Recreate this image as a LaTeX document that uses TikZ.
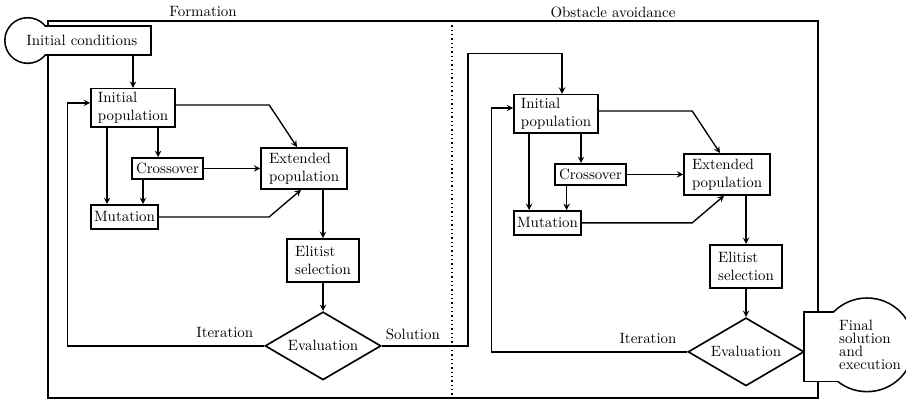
\documentclass[tikz,border=0pt]{standalone}
\usetikzlibrary{shapes.geometric, arrows, positioning}
\tikzstyle{process} = [
  rectangle,
  inner sep=2.5pt,
  align=left,
  draw=black,
  line width=1.1pt,
  fill=white
]
\tikzstyle{decision} = [
  diamond,
  aspect=1.7,
  minimum width=77.7pt,
  minimum height=45.6pt,
  inner sep=0pt,
  draw=black,
  line width=1.1pt,
  fill=white
]
\tikzstyle{terminal} = [
  rectangle,
  inner sep=3pt,
  align=left
]
\tikzstyle{arrow} = [line width=0.9pt, ->, >=stealth]
\tikzstyle{framebox} = [line width=0.9pt]
\pgfdeclarelayer{background}
\pgfsetlayers{background,main}

\begin{document}
\begin{tikzpicture}[x=0.67pt, y=-0.67pt, node distance=40pt]
    \useasboundingbox (0,0) rectangle (906,404);
    \node (title1) at (203,12) {Formation};
    \node (title2) at (613,12) {Obstacle avoidance};
    \node (start) [terminal, text width=79.8pt, minimum height=18.1pt] at (86,40.5) {Initial conditions};

    % formation
    \node (ipop1) [process, below of=start, xshift=31.5pt, yshift=-5.2pt, minimum width=56.3pt, minimum height=25.5pt] {Initial\\population};
    \node (cross1) [process, below of=ipop1, xshift=23.1pt, yshift=-0.5pt, minimum width=47.6pt, minimum height=14.1pt] {Crossover};
    \node (ext1) [process, right of=cross1, xshift=51.5pt, minimum width=57.6pt, minimum height=27.5pt] {Extended\\population};
    \node (mut1) [process, below of=cross1, xshift=-28.8pt, yshift=7.5pt, inner xsep=1.5pt, minimum width=44.9pt, minimum height=16.1pt] {Mutation};
    \node (elit1) [process, below of=ext1, xshift=12.7pt, yshift=-21.6pt, minimum width=48.2pt, minimum height=28.8pt] {Elitist\\selection};
    \node (eval1) [decision, below of=elit1, yshift=-17.3pt] {Evaluation};

    % obstacle avoidance
    \node (ipop2) [process, right of=ipop1, xshift=243.4pt, yshift=-4pt, minimum width=56.3pt, minimum height=25.5pt] {Initial\\population};
    \node (cross2) [process, below of=ipop2, xshift=23.1pt, yshift=-0.5pt, minimum width=47.6pt, minimum height=14.1pt] {Crossover};
    \node (ext2) [process, right of=cross2, xshift=51.5pt, minimum width=57.6pt, minimum height=27.5pt] {Extended\\population};
    \node (mut2) [process, below of=cross2, xshift=-28.8pt, yshift=7.5pt, inner xsep=1.5pt, minimum width=44.9pt, minimum height=16.1pt] {Mutation};
    \node (elit2) [process, below of=ext2, xshift=12.7pt, yshift=-21.6pt, minimum width=48.2pt, minimum height=28.8pt] {Elitist\\selection};
    \node (eval2) [decision, below of=elit2, yshift=-17.3pt] {Evaluation};
    \node (final) [terminal, right of=eval2, xshift=43.1pt, yshift=4.7pt, font=\fontsize{10}{8.7}\selectfont] {Final\\solution\\and\\execution};

    \draw [arrow] (start.south -| ipop1.north) -- (ipop1.north);
    \draw [arrow] ([yshift=2pt]ipop1.east) -- ([xshift=6pt, yshift=2pt]ext1.west |- ipop1.east) -- ([xshift=-4.7pt]ext1.north);
    \draw [arrow] ([xshift=-17.4pt]ipop1.south) -- ([xshift=-17.4pt]ipop1.south |- mut1.north);
    \draw [arrow] ([xshift=16.8pt]ipop1.south) -- ([xshift=16.8pt]ipop1.south |- cross1.north);
    \draw [arrow] ([xshift=-16.4pt]cross1.south) -- ([xshift=-16.4pt]cross1.south |- mut1.north);
    \draw [arrow] (cross1.east) -- (cross1.east -| ext1.west);
    \draw [arrow] (mut1.east) -- ([xshift=6pt]ext1.west |- mut1.east) -- ([xshift=-2pt]ext1.south);
    \draw [arrow] (ext1.south -| elit1.north) -- (elit1.north);
    \draw [arrow] (elit1) -- (eval1);
    \draw [arrow] (eval1.west) -| node[above=2pt, pos=0.1] {Iteration} ([xshift=-15.4pt, yshift=3.4pt]ipop1.west) -- ([yshift=3.4pt]ipop1.west);
    \draw [arrow] (eval1.east) -- node[above, pos=0.36] {Solution} ([xshift=-30.2pt]ipop2.west |- eval1.east) |- ([xshift=4pt, yshift=26.8pt]ipop2.north) -- ([xshift=4pt]ipop2.north);

    \draw [arrow] ([yshift=2pt]ipop2.east) -- ([xshift=6pt, yshift=2pt]ext2.west |- ipop2.east) -- ([xshift=-4.7pt]ext2.north);
    \draw [arrow] ([xshift=-18pt]ipop2.south) -- ([xshift=-18pt]ipop2.south |- mut2.north);
    \draw [arrow] ([xshift=16.8pt]ipop2.south) -- ([xshift=16.8pt]ipop2.south |- cross2.north);
    \draw [arrow] ([xshift=-16pt]cross2.south) -- ([xshift=-16pt]cross2.south |- mut2.north);
    \draw [arrow] (cross2.east) -- (cross2.east -| ext2.west);
    \draw [arrow] (mut2.east) -- ([xshift=6pt]ext2.west |- mut2.east) -- ([xshift=-2pt]ext2.south);
    \draw [arrow] (ext2.south -| elit2.north) -- (elit2.north);
    \draw [arrow] (elit2) -- (eval2);
    \draw [arrow] (eval2.west) -| node[above=2pt, pos=0.1] {Iteration} ([xshift=-14.7pt, yshift=4pt]ipop2.west) -- ([yshift=4pt]ipop2.west);

    \begin{pgfonlayer}{background}
      \draw [framebox] (48,21) rectangle (818,398);
      \draw [framebox, dotted] (452,21) -- (452,398);
      % start and end shapes
      \draw [line width=2.2pt] (start.north west) rectangle (start.south east);
      \draw [line width=2.2pt] ([xshift=4pt]start.west) circle (14.7pt);
      \fill [white] (start.north west) rectangle (start.south east);
      \fill [white] ([xshift=4pt]start.west) circle (14.7pt);
      \draw [line width=2.2pt] ([yshift=26.1pt]eval2.east) rectangle ([xshift=30.8pt, yshift=-19.4pt]eval2.east);
      \draw [line width=2.2pt] ([xshift=-2pt]final.center) circle (30.8pt);
      \fill [white] ([yshift=26.1pt]eval2.east) rectangle ([xshift=30.8pt, yshift=-19.4pt]eval2.east);
      \fill [white] ([xshift=-2pt]final.center) circle (30.8pt);
    \end{pgfonlayer}
\end{tikzpicture}
\end{document}
